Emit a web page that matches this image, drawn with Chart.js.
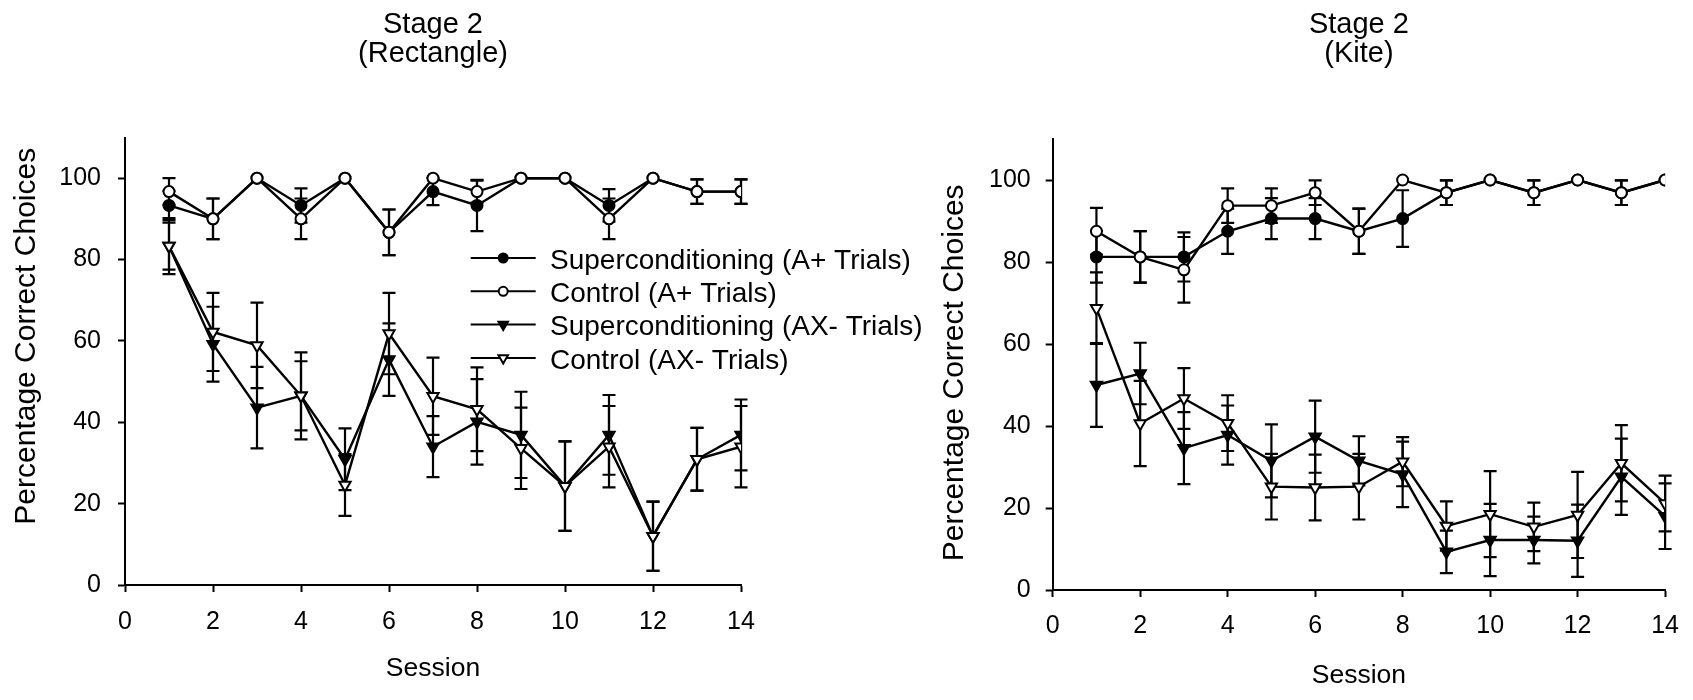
<!DOCTYPE html>
<html>
<head>
<meta charset="utf-8">
<script src="https://cdn.jsdelivr.net/npm/chart.js@4.4.1/dist/chart.umd.min.js"></script>
<style>
html,body{margin:0;padding:0;background:#fff;width:1693px;height:700px;overflow:hidden}
#w1{position:absolute;left:0;top:0;width:930px;height:700px;z-index:1}
#w2{position:absolute;left:846px;top:0;width:847px;height:700px;z-index:2}
</style>
</head>
<body>
<div id="w1"><canvas id="c1"></canvas></div>
<div id="w2"><canvas id="c2"></canvas></div>
<script>
// ---------- data ----------
const sessions = [1,2,3,4,5,6,7,8,9,10,11,12,13,14];
const xTickValues = [0,2,4,6,8,10,12,14];
const yTickValues = [0,20,40,60,80,100];
const seriesLabels = [
  'Superconditioning (A+ Trials)',
  'Control (A+ Trials)',
  'Superconditioning (AX- Trials)',
  'Control (AX- Trials)'
];
const xAxisTitle = 'Session';
const yAxisTitle = 'Percentage Correct Choices';
const rectTitle = ['Stage 2', '(Rectangle)'];
const kiteTitle = ['Stage 2', '(Kite)'];

// Stage 2 (Rectangle)
const rectSuperA     = [93.3, 90, 100, 93.3, 100, 86.7, 96.7, 93.3, 100, 100, 93.3, 100, 96.7, 96.7];
const rectSuperAErr  = [3.6, 5, 0, 4.2, 0, 5.6, 3.3, 6.3, 0, 0, 4, 0, 3, 3];
const rectCtrlA      = [96.7, 90, 100, 90, 100, 86.7, 100, 96.7, 100, 100, 90, 100, 96.7, 96.7];
const rectCtrlAErr   = [3.3, 5, 0, 5, 0, 5.6, 0, 2.7, 0, 0, 5, 0, 3, 3];
const rectSuperAX    = [83.3, 59.2, 43.6, 46.5, 30.9, 55.4, 34, 40.1, 36.9, 24.3, 36.9, 12, 30.9, 36.9];
const rectSuperAXErr = [6.9, 9.2, 10, 10.7, 7.6, 8.9, 7.5, 10.5, 10.6, 11, 9.8, 8.5, 7.7, 8.7];
const rectCtrlAX     = [83.3, 62.2, 58.9, 46.5, 24.6, 61.8, 46.4, 43.2, 33.6, 24.3, 34, 12, 30.9, 34];
const rectCtrlAXErr  = [5.8, 9.6, 10.5, 8.5, 7.6, 10, 9.5, 10.3, 10, 11, 10, 8.5, 7.7, 10];

// Stage 2 (Kite)
const kiteSuperA     = [81.25, 81.25, 81.25, 87.5, 90.6, 90.6, 87.5, 90.6, 96.9, 100, 96.9, 100, 96.9, 100];
const kiteSuperAErr  = [6.3, 6.3, 6, 5.5, 5, 5, 5.5, 6.9, 3, 0, 3, 0, 3, 0];
const kiteCtrlA      = [87.5, 81.25, 78.1, 93.75, 93.75, 96.9, 87.5, 100, 96.9, 100, 96.9, 100, 96.9, 100];
const kiteCtrlAErr   = [5.7, 6.3, 8, 4.2, 4.2, 3, 5.5, 0, 3, 0, 3, 0, 3, 0];
const kiteSuperAX    = [50, 52.8, 34.6, 37.8, 31.5, 37.4, 31.5, 28.2, 9.3, 12.2, 12.2, 12, 27.6, 18];
const kiteSuperAXErr = [10.2, 7.5, 8.8, 7.2, 8.9, 8.8, 6, 8, 5.2, 8.8, 5.7, 8.8, 9.3, 8];
const kiteCtrlAX     = [68.75, 40.6, 46.7, 40.7, 25.2, 25, 25.2, 31.3, 15.6, 18.5, 15.4, 18.3, 30.9, 21.1];
const kiteCtrlAXErr  = [8.7, 10.4, 7.4, 6.8, 8, 8, 8, 6, 6, 10.5, 5.9, 10.5, 9.3, 6.8];

// ---------- styling / plugins ----------
const FONT = "'Liberation Sans', Arial, Helvetica, sans-serif";
const LINE_W = 2.4;

function drawMarker(ctx, kind, filled, x, y, r) {
  ctx.save();
  ctx.lineWidth = 2;
  ctx.strokeStyle = '#000';
  ctx.fillStyle = filled ? '#000' : '#fff';
  ctx.beginPath();
  if (kind === 'circle') {
    ctx.arc(x, y, r, 0, Math.PI * 2);
  } else {
    let rad = Math.PI;
    ctx.moveTo(x + Math.sin(rad) * r, y - Math.cos(rad) * r);
    rad += 2 * Math.PI / 3;
    ctx.lineTo(x + Math.sin(rad) * r, y - Math.cos(rad) * r);
    rad += 2 * Math.PI / 3;
    ctx.lineTo(x + Math.sin(rad) * r, y - Math.cos(rad) * r);
    ctx.closePath();
  }
  ctx.fill();
  ctx.stroke();
  ctx.restore();
}

const errorBars = {
  id: 'errorBars',
  beforeDatasetsDraw(chart) {
    const {ctx} = chart;
    const xs = chart.scales.x, ys = chart.scales.y;
    const capHalf = 6.5;
    ctx.save();
    ctx.strokeStyle = '#000';
    ctx.lineWidth = 2.2;
    chart.data.datasets.forEach((ds, i) => {
      if (!chart.isDatasetVisible(i) || !ds.errors) return;
      ds.data.forEach((pt, j) => {
        const e = ds.errors[j];
        if (!e) return;
        const px = xs.getPixelForValue(pt.x);
        const top = ys.getPixelForValue(pt.y + e);
        const bot = ys.getPixelForValue(pt.y - e);
        ctx.beginPath();
        ctx.moveTo(px, top); ctx.lineTo(px, bot);
        ctx.moveTo(px - capHalf, top); ctx.lineTo(px + capHalf, top);
        ctx.moveTo(px - capHalf, bot); ctx.lineTo(px + capHalf, bot);
        ctx.stroke();
      });
    });
    ctx.restore();
  }
};

const insideLegend = {
  id: 'insideLegend',
  afterDraw(chart, args, opts) {
    if (!opts || !opts.show) return;
    const {ctx, chartArea} = chart;
    const x0 = chartArea.left + opts.offsetX;
    ctx.save();
    ctx.font = opts.fontSize + 'px ' + FONT;
    ctx.fillStyle = '#000';
    ctx.textAlign = 'left';
    ctx.textBaseline = 'middle';
    chart.data.datasets.forEach((ds, i) => {
      const yy = chartArea.top + opts.offsetY + i * opts.rowGap;
      ctx.beginPath();
      ctx.lineWidth = 2;
      ctx.strokeStyle = '#000';
      ctx.moveTo(x0, yy);
      ctx.lineTo(x0 + opts.lineLen, yy);
      ctx.stroke();
      const kind = ds.pointStyle === 'circle' ? 'circle' : 'triangle';
      drawMarker(ctx, kind, ds.pointBackgroundColor === '#000', x0 + opts.lineLen / 2, yy, kind === 'circle' ? 4.5 : 5.5);
      ctx.fillText(ds.label, x0 + opts.textGap, yy + 3);
    });
    ctx.restore();
  }
};

function makeChart(canvasId, cfg) {
  const datasets = seriesLabels.map((label, k) => ({
    label: label,
    data: sessions.map((s, j) => ({x: s, y: cfg.values[k][j]})),
    errors: cfg.errors[k],
    borderColor: '#000',
    borderWidth: LINE_W,
    pointStyle: k < 2 ? 'circle' : 'triangle',
    rotation: k < 2 ? 0 : 180,
    pointRadius: k < 2 ? 5.5 : 6.5,
    pointBorderWidth: 2,
    pointBackgroundColor: (k % 2 === 0) ? '#000' : '#fff',
    pointBorderColor: '#000',
    fill: false,
    tension: 0,
    order: (k % 2 === 0) ? 1 : 0
  }));

  return new Chart(document.getElementById(canvasId), {
    type: 'line',
    data: {datasets: datasets},
    plugins: [errorBars, insideLegend],
    options: {
      responsive: true,
      maintainAspectRatio: false,
      animation: false,
      devicePixelRatio: 1,
      events: [],
      layout: {padding: {left: 0, top: 0, right: cfg.padRight, bottom: 0}},
      plugins: {
        legend: {display: false},
        tooltip: {enabled: false},
        title: {
          display: true,
          text: cfg.title,
          fullSize: false,
          color: '#000',
          font: {family: FONT, size: 29, weight: 'normal', lineHeight: 1.0},
          padding: {top: 10.5, bottom: cfg.titlePadBottom}
        },
        insideLegend: cfg.legend
      },
      scales: {
        x: {
          type: 'linear',
          min: 0, max: 14,
          afterBuildTicks: (s) => { s.ticks = xTickValues.map(v => ({value: v})); },
          afterFit: (s) => { s.height = cfg.xHeight; },
          grid: {display: true, drawOnChartArea: false, drawTicks: true, tickLength: 7, tickWidth: 2, tickColor: '#000'},
          border: {display: true, color: '#000', width: 2},
          ticks: {color: '#000', font: {family: FONT, size: 25}, padding: cfg.xTickPad, maxRotation: 0, autoSkip: false},
          title: {display: true, text: xAxisTitle, color: '#000', font: {family: FONT, size: 26.5}, padding: {top: 0, bottom: cfg.xTitlePad}}
        },
        y: {
          type: 'linear',
          min: 0, max: 110,
          afterBuildTicks: (s) => { s.ticks = yTickValues.map(v => ({value: v})); },
          afterFit: (s) => { s.width = cfg.yWidth; },
          grid: {display: true, drawOnChartArea: false, drawTicks: true, tickLength: 7, tickWidth: 2, tickColor: '#000'},
          border: {display: true, color: '#000', width: 2},
          ticks: {color: '#000', font: {family: FONT, size: 25}, padding: cfg.yTickPad},
          title: {display: true, text: cfg.yTitleText, color: '#000', font: {family: FONT, size: 30}, padding: {top: cfg.yTitlePad, bottom: 0}}
        }
      }
    }
  });
}

makeChart('c1', {
  title: rectTitle,
  yTitleText: '      ' + yAxisTitle,
  values: [rectSuperA, rectCtrlA, rectSuperAX, rectCtrlAX],
  errors: [rectSuperAErr, rectCtrlAErr, rectSuperAXErr, rectCtrlAXErr],
  padRight: 189,
  titlePadBottom: 69,
  xHeight: 115,
  yWidth: 125,
  xTickPad: 15,
  yTickPad: 17,
  xTitlePad: 15,
  yTitlePad: 9,
  legend: {show: true, offsetX: 345.7, offsetY: 120.5, rowGap: 33.3, lineLen: 65, textGap: 79.3, fontSize: 28}
});

makeChart('c2', {
  title: kiteTitle,
  yTitleText: yAxisTitle + '  ',
  values: [kiteSuperA, kiteCtrlA, kiteSuperAX, kiteCtrlAX],
  errors: [kiteSuperAErr, kiteCtrlAErr, kiteSuperAXErr, kiteCtrlAXErr],
  padRight: 22.3,
  titlePadBottom: 70.5,
  xHeight: 110,
  yWidth: 206.7,
  xTickPad: 14,
  yTickPad: 15,
  xTitlePad: 8,
  yTitlePad: 91,
  legend: {show: false}
});
</script>
</body>
</html>
